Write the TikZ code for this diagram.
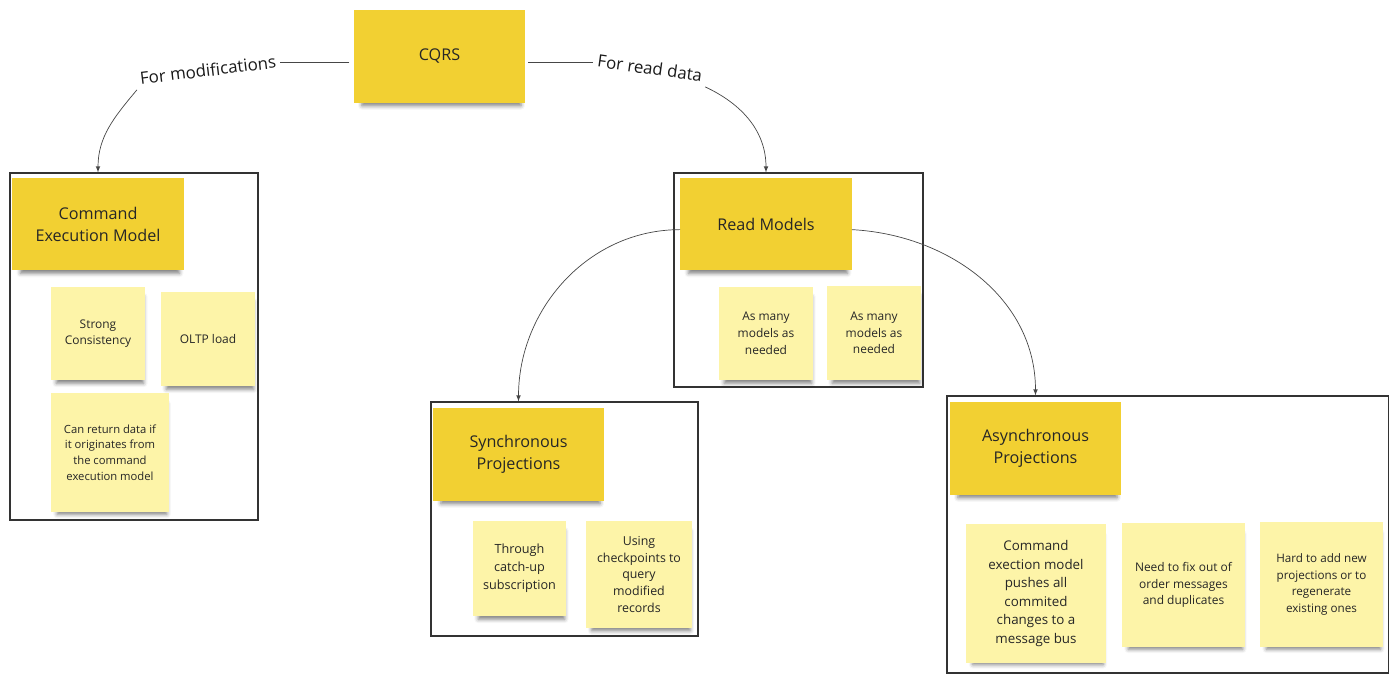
\documentclass[tikz,border=0pt]{standalone}
\usepackage{fontspec}
\setmainfont{Open Sans}
\usepackage{xcolor}
\usetikzlibrary{shadows.blur}
\definecolor{noteyellow}{RGB}{242,208,50}
\definecolor{notepale}{RGB}{253,244,168}
\definecolor{inkgray}{RGB}{70,70,70}

\begin{document}
\begin{tikzpicture}[x=0.025cm, y=0.025cm,
  note/.style={align=center, text=black!85, inner sep=0pt,
    blur shadow={shadow xshift=1.5pt, shadow yshift=-5pt, shadow scale=0.93, shadow blur radius=3pt, shadow opacity=50}},
  bignote/.style={note, fill=noteyellow, minimum width=4.275cm, minimum height=2.3cm, font=\fontsize{11.5}{15.6}\selectfont},
  smallnote/.style={note, fill=notepale, font=\fontsize{8.5}{11.9}\selectfont},
  frame/.style={draw=black!80, line width=0.8pt, inner sep=0pt},
  link/.style={draw=inkgray, line width=0.5pt},
  lbl/.style={font=\fontsize{12}{14}\selectfont, text=black!90, inner sep=3pt}]
\useasboundingbox (0,0) rectangle (1400,-685);
\node [frame, minimum width=6.2cm, minimum height=8.675cm] (cmdbox) at (134,-346.5) {};
\node [frame, minimum width=6.225cm, minimum height=5.35cm] (readbox) at (798.5,-280) {};
\node [frame, minimum width=6.675cm, minimum height=5.85cm] (syncbox) at (564.5,-519) {};
\node [frame, minimum width=11.025cm, minimum height=6.925cm] (asyncbox) at (1167.5,-534.5) {};
\node [bignote] (cqrs) at (439.5,-56.5) {CQRS};
\node [bignote] (cmd) at (98,-224) {Command\\Execution Model};
\node [bignote] (read) at (766,-224) {Read Models};
\node [bignote] (sync) at (518.5,-454.5) {Synchronous\\Projections};
\node [bignote] (async) at (1035.5,-448.5) {Asynchronous\\Projections};
\node [smallnote, minimum width=2.35cm, minimum height=2.325cm] (strong) at (98,-333.5) {Strong\\Consistency};
\node [smallnote, minimum width=2.35cm, minimum height=2.35cm] (oltp) at (208,-339) {OLTP load};
\node [smallnote, minimum width=2.95cm, minimum height=2.975cm, font=\fontsize{8}{11.2}\selectfont] (canret) at (110,-452.5) {Can return data if\\it originates from\\the command\\execution model};
\node [smallnote, minimum width=2.35cm, minimum height=2.325cm] (many1) at (766,-333.5) {As many\\models as\\needed};
\node [smallnote, minimum width=2.35cm, minimum height=2.35cm] (many2) at (874,-333) {As many\\models as\\needed};
\node [smallnote, minimum width=2.325cm, minimum height=2.375cm, font=\fontsize{9}{12.8}\selectfont] (through) at (519.5,-568.5) {Through\\catch-up\\subscription};
\node [smallnote, minimum width=2.65cm, minimum height=2.675cm, font=\fontsize{8.8}{12}\selectfont] (using) at (639,-574.5) {Using\\checkpoints to\\query\\modified\\records};
\node [smallnote, minimum width=3.5cm, minimum height=3.475cm, font=\fontsize{9.5}{13.2}\selectfont] (cmdexec) at (1036,-593.5) {Command\\exection model\\pushes all\\commited\\changes to a\\message bus};
\node [smallnote, minimum width=3.075cm, minimum height=3.1cm] (needfix) at (1183.5,-585) {Need to fix out of\\order messages\\and duplicates};
\node [smallnote, minimum width=3.075cm, minimum height=3.125cm, font=\fontsize{8.3}{11.9}\selectfont] (hardadd) at (1321.5,-584.5) {Hard to add new\\projections or to\\regenerate\\existing ones};
\node [lbl, rotate=7] (mod) at (208,-70) {For modifications};
\node [lbl, rotate=-8] (rd) at (650,-68) {For read data};
\draw [link] ([xshift=-3pt, yshift=-4.5pt]cqrs.west) -- ([yshift=-4.5pt]cqrs.west -| mod.east);
\draw [link, -latex] (mod.south west) to[out=-130, in=90] (cmd |- cmdbox.north);
\draw [link] ([xshift=2pt, yshift=-4.5pt]cqrs.east) -- ([yshift=-4.5pt]cqrs.east -| rd.west);
\draw [link, -latex] (rd.south east) to[out=-25, in=90] (read |- readbox.north);
\draw [link, -latex] ([yshift=-4pt]read.west) to[out=180, in=90] (sync |- syncbox.north);
\draw [link, -latex] ([yshift=-4pt]read.east) to[out=-3, in=90] (async |- asyncbox.north);
\end{tikzpicture}
\end{document}
